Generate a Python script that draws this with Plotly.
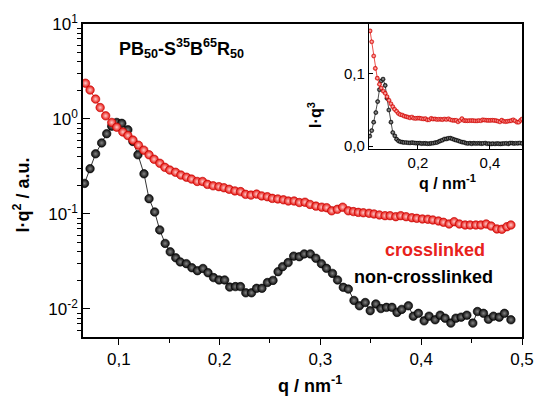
import plotly.graph_objects as go

# ---------------- data ----------------
black_q = [0.066, 0.0715, 0.077, 0.083, 0.088, 0.093, 0.098, 0.103, 0.109, 0.114,
           0.119, 0.125, 0.130, 0.1356, 0.1406, 0.146, 0.151, 0.1565, 0.161, 0.167,
           0.1725, 0.178, 0.1835, 0.1885, 0.194, 0.1995, 0.205, 0.210, 0.2157, 0.2207,
           0.226, 0.2317, 0.2367, 0.242, 0.2475, 0.253, 0.258, 0.2625, 0.268, 0.2735,
           0.279, 0.284, 0.290, 0.2955, 0.301, 0.306, 0.312, 0.317, 0.3227, 0.3277,
           0.3333, 0.3387, 0.3445, 0.3494, 0.355, 0.360, 0.3655, 0.371, 0.376, 0.3807,
           0.3873, 0.3922, 0.3972, 0.4029, 0.4078, 0.4138, 0.4188, 0.4237, 0.4294, 0.4344,
           0.4396, 0.4453, 0.4512, 0.4558, 0.4618, 0.4667, 0.4717, 0.4774, 0.4826, 0.489]
black_I = [0.21, 0.30, 0.43, 0.56, 0.70, 0.84, 0.92, 0.90, 0.77, 0.58,
           0.42, 0.265, 0.145, 0.105, 0.068, 0.049, 0.040, 0.0346, 0.0313, 0.030,
           0.0272, 0.0253, 0.0267, 0.0241, 0.0214, 0.0202, 0.0202, 0.0170, 0.0172, 0.0172,
           0.0148, 0.0148, 0.0165, 0.0165, 0.019, 0.020, 0.0247, 0.0279, 0.0308, 0.036,
           0.0355, 0.038, 0.038, 0.0342, 0.030, 0.0268, 0.0237, 0.0202, 0.0169, 0.0162,
           0.0123, 0.0108, 0.0117, 0.0096, 0.0113, 0.0101, 0.0104, 0.0104, 0.0092, 0.0099,
           0.0108, 0.0084, 0.0090, 0.0075, 0.0084, 0.0077, 0.0086, 0.0080, 0.0071, 0.0080,
           0.0082, 0.0086, 0.0071, 0.0094, 0.0090, 0.0078, 0.0084, 0.0082, 0.0090, 0.0077]

red_q = [0.067, 0.0715, 0.077, 0.0815, 0.087, 0.093, 0.098, 0.104, 0.109, 0.114,
         0.1195, 0.1248, 0.130, 0.135, 0.1407, 0.1457, 0.1506, 0.1563, 0.1616, 0.1672,
         0.1722, 0.1778, 0.1831, 0.188, 0.1936, 0.1993, 0.2043, 0.2095, 0.2152, 0.2208,
         0.2258, 0.2311, 0.2367, 0.2417, 0.2473, 0.2523, 0.2577, 0.2633, 0.2682, 0.2739,
         0.2791, 0.2847, 0.2897, 0.2956, 0.3013, 0.3062, 0.3112, 0.3168, 0.3221, 0.3277,
         0.3327, 0.3376, 0.3426, 0.3483, 0.3532, 0.3585, 0.3641, 0.3691, 0.3748, 0.3797,
         0.385, 0.3907, 0.3956, 0.4012, 0.4066, 0.4115, 0.4171, 0.4221, 0.4277, 0.4327,
         0.4379, 0.4436, 0.4486, 0.4542, 0.4592, 0.4645, 0.4694, 0.4751, 0.48, 0.485, 0.489]
red_I = [2.38, 2.02, 1.62, 1.32, 1.08, 0.92, 0.82, 0.73, 0.67, 0.60,
         0.53, 0.47, 0.42, 0.377, 0.342, 0.31, 0.29, 0.275, 0.257, 0.244,
         0.233, 0.22, 0.22, 0.205, 0.198, 0.194, 0.189, 0.182, 0.175, 0.172,
         0.161, 0.158, 0.162, 0.155, 0.152, 0.146, 0.144, 0.141, 0.137, 0.137,
         0.132, 0.133, 0.126, 0.121, 0.118, 0.1165, 0.108, 0.112, 0.118, 0.108,
         0.106, 0.104, 0.103, 0.1017, 0.100, 0.0977, 0.096, 0.096, 0.0937, 0.096,
         0.0937, 0.0914, 0.090, 0.0886, 0.088, 0.0865, 0.0844, 0.0818, 0.0785, 0.083,
         0.0785, 0.0766, 0.0766, 0.0766, 0.0766, 0.0785, 0.0747, 0.0696, 0.069, 0.0735, 0.0766]

# inset shows I*q^3 = (I*q^2) * q
black_Iq3 = [i * q for i, q in zip(black_I, black_q)]
red_Iq3 = [i * q for i, q in zip(red_I, red_q)]

x_ticks = [0.1, 0.2, 0.3, 0.4, 0.5]
x_ticktext = ["0,1", "0,2", "0,3", "0,4", "0,5"]
y_ticks = [0.01, 0.1, 1, 10]
y_ticktext = ["10<sup>-2</sup>", "10<sup>-1</sup>", "10<sup>0</sup>", "10<sup>1</sup>"]
inset_xticks = [0.2, 0.4]
inset_xtext = ["0,2", "0,4"]
inset_yticks = [0.0, 0.1]
inset_ytext = ["0,0", "0,1"]

FONT = "Arial, Liberation Sans, sans-serif"
RED = "#e8221c"
BLACK = "#0a0a0a"

fig = go.Figure()

# main plot
fig.add_trace(go.Scatter(
    x=black_q, y=black_I, mode="lines+markers", xaxis="x", yaxis="y",
    line=dict(color="#333333", width=1),
    marker=dict(size=8.5, color=BLACK, line=dict(color="#000000", width=0.6),
                gradient=dict(type="radial", color="#858585")),
))
fig.add_trace(go.Scatter(
    x=red_q, y=red_I, mode="lines+markers", xaxis="x", yaxis="y",
    line=dict(color=RED, width=1),
    marker=dict(size=8.5, color="#e6100a", line=dict(color="#c00000", width=0.6),
                gradient=dict(type="radial", color="#ffcccc")),
))

# inset
fig.add_trace(go.Scatter(
    x=black_q, y=black_Iq3, mode="lines+markers", xaxis="x2", yaxis="y2",
    line=dict(color="#222222", width=0.8),
    marker=dict(size=4.2, color=BLACK, line=dict(color="#000000", width=0.4),
                gradient=dict(type="radial", color="#b0b0b0")),
))
fig.add_trace(go.Scatter(
    x=red_q, y=red_Iq3, mode="lines+markers", xaxis="x2", yaxis="y2",
    line=dict(color=RED, width=0.8),
    marker=dict(size=4.2, color="#e6100a", line=dict(color="#c00000", width=0.4),
                gradient=dict(type="radial", color="#ffd0d0")),
))

y_minor = [k * 10.0 ** e for e in range(-3, 1) for k in range(2, 10)]

common = dict(showgrid=False, zeroline=False, automargin=False,
              showline=True, linecolor="black", mirror=True)

fig.update_layout(
    width=536, height=396,
    margin=dict(l=83, r=14, t=24, b=59, autoexpand=False),
    paper_bgcolor="white", plot_bgcolor="white",
    showlegend=False,
    font=dict(family=FONT, color="black"),
    xaxis=dict(
        domain=[0, 1], anchor="y", range=[0.0645, 0.5],
        tickmode="array", tickvals=x_ticks, ticktext=x_ticktext,
        ticks="outside", ticklen=6, tickwidth=1.2, tickcolor="black",
        minor=dict(tickmode="array", tickvals=[0.15, 0.25, 0.35, 0.45],
                   ticks="outside", ticklen=4, tickwidth=1.2, tickcolor="black"),
        linewidth=1.5, tickfont=dict(size=17, family=FONT), **common,
    ),
    yaxis=dict(
        domain=[0, 1], anchor="x", type="log", range=[-2.295, 1],
        tickmode="array", tickvals=y_ticks, ticktext=y_ticktext,
        ticks="inside", ticklen=7, tickwidth=1.2, tickcolor="black",
        minor=dict(tickmode="array", tickvals=y_minor,
                   ticks="outside", ticklen=4, tickwidth=1, tickcolor="black"),
        linewidth=1.5, tickfont=dict(size=17, family=FONT), **common,
    ),
    xaxis2=dict(
        domain=[0.6515, 1], anchor="y2", range=[0.064, 0.489],
        tickmode="array", tickvals=inset_xticks, ticktext=inset_xtext,
        ticks="inside", ticklen=4, tickwidth=1, tickcolor="black",
        linewidth=1.3, tickfont=dict(size=15, family=FONT), **common,
    ),
    yaxis2=dict(
        domain=[0.6006, 1], anchor="x2", range=[-0.004, 0.169],
        tickmode="array", tickvals=inset_yticks, ticktext=inset_ytext,
        ticks="inside", ticklen=4, tickwidth=1, tickcolor="black",
        linewidth=1.3, tickfont=dict(size=15, family=FONT), **common,
    ),
)

ann = [
    dict(text="<b>PB<sub>50</sub>-S<sup>35</sup>B<sup>65</sup>R<sub>50</sub></b>",
         x=0.0775, y=0.923, xanchor="left", yanchor="middle", font=dict(size=18)),
    dict(text="<b>crosslinked</b>", x=0.683, y=0.278, xanchor="left", yanchor="middle",
         font=dict(size=18, color=RED)),
    dict(text="<b>non-crosslinked</b>", x=0.6128, y=0.192, xanchor="left", yanchor="middle",
         font=dict(size=18, color="black")),
    dict(text="<b>I·q<sup>2</sup> / a.u.</b>", x=-0.139, y=0.455, xanchor="center",
         yanchor="middle", textangle=-90, font=dict(size=18)),
    dict(text="<b>q / nm<sup>-1</sup></b>", x=0.517, y=-0.153, xanchor="center",
         yanchor="middle", font=dict(size=18)),
    dict(text="<b>I·q<sup>3</sup></b>", x=0.528, y=0.709, xanchor="center",
         yanchor="middle", textangle=-90, font=dict(size=16)),
    dict(text="<b>q / nm<sup>-1</sup></b>", x=0.831, y=0.495, xanchor="center",
         yanchor="middle", font=dict(size=16)),
]
for a in ann:
    a.update(xref="paper", yref="paper", showarrow=False)
    a["font"]["family"] = FONT
fig.update_layout(annotations=ann)

fig.write_html("out.html", config={"displayModeBar": False},
               post_script="document.body.style.margin='0px';document.body.style.overflow='hidden';")
